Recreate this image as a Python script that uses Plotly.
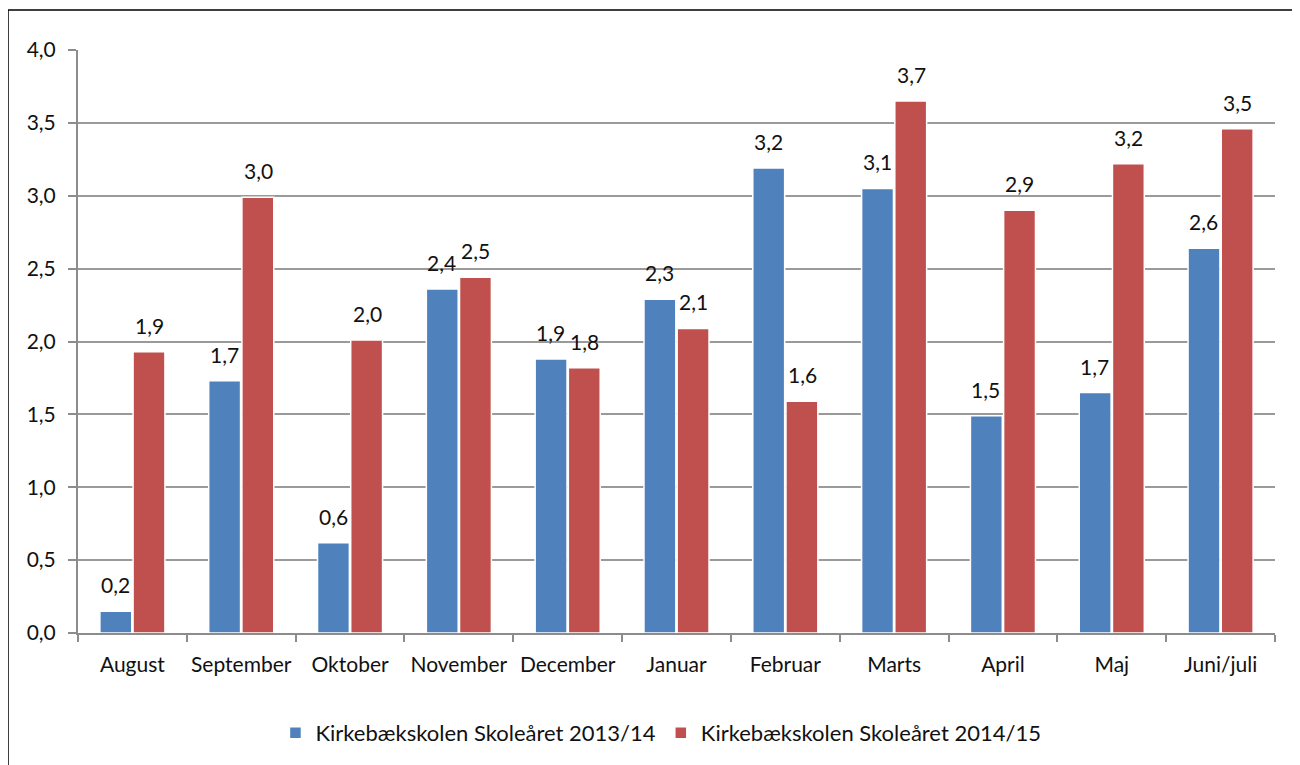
import plotly.graph_objects as go

months = ["August", "September", "Oktober", "November", "December", "Januar",
          "Februar", "Marts", "April", "Maj", "Juni/juli"]
series_names = ["Kirkebækskolen Skoleåret 2013/14", "Kirkebækskolen Skoleåret 2014/15"]
vals_1314 = [0.15, 1.73, 0.62, 2.36, 1.88, 2.29, 3.19, 3.05, 1.49, 1.65, 2.64]
vals_1415 = [1.93, 2.99, 2.01, 2.44, 1.82, 2.09, 1.59, 3.65, 2.90, 3.22, 3.46]
labels_1314 = ["0,2", "1,7", "0,6", "2,4", "1,9", "2,3", "3,2", "3,1", "1,5", "1,7", "2,6"]
labels_1415 = ["1,9", "3,0", "2,0", "2,5", "1,8", "2,1", "1,6", "3,7", "2,9", "3,2", "3,5"]

colors = ["#4F81BD", "#C0504D"]
FONT = "Lato, 'Open Sans', sans-serif"
FS = 21

fig = go.Figure()
for name, vals, col in zip(series_names, [vals_1314, vals_1415], colors):
    fig.add_trace(go.Bar(x=months, y=vals, name=name, marker_color=col,
                         marker_line=dict(color="white", width=1.5)))

# data labels sit a bit above each bar, as in the Excel original
annos = []
for vals, labs, shift in [(vals_1314, labels_1314, -17), (vals_1415, labels_1415, 17)]:
    for m, v, t in zip(months, vals, labs):
        annos.append(dict(x=m, y=v, text=t, showarrow=False, xshift=shift,
                          yshift=12, yanchor="bottom",
                          font=dict(family=FONT, size=FS, color="#111")))

# page has an 8px body margin, so everything is offset by 8px
L, R, T, B = 70, 33, 42, 140
W, H = 1300, 765
pw, ph = W - L - R, H - T - B

def px(x):
    return (x - 8 - L) / pw

def py(y):
    return (H - B - (y - 8)) / ph

fig.update_layout(
    width=W, height=H,
    margin=dict(l=L, r=R, t=T, b=B),
    paper_bgcolor="white", plot_bgcolor="white",
    separators=",.",
    barmode="group", bargap=0.39, bargroupgap=0.04,
    font=dict(family=FONT, size=FS, color="#111"),
    annotations=annos,
    showlegend=True,
    legend=dict(orientation="h", x=0.487, xanchor="center", y=py(733), yanchor="middle",
                font=dict(family=FONT, size=22), traceorder="normal",
                itemwidth=30),
    shapes=[dict(type="rect", xref="paper", yref="paper",
                 x0=px(8), x1=px(1294), y0=py(780), y1=py(10),
                 line=dict(color="black", width=1.5))],
)
fig.update_xaxes(type="category", showline=True, linecolor="#8C8C8C", linewidth=2,
                 ticks="outside", tickson="boundaries", ticklen=7, tickcolor="#8C8C8C",
                 tickwidth=1.5, showgrid=False, tickangle=0, ticklabelstandoff=12,
                 tickfont=dict(size=FS))
fig.update_yaxes(range=[0, 4], dtick=0.5, tickformat=".1f", showline=True,
                 linecolor="#8C8C8C", linewidth=2, ticks="outside", ticklen=8,
                 tickcolor="#8C8C8C", tickwidth=1.5, showgrid=True,
                 gridcolor="#9A9A9A", gridwidth=2, zeroline=False,
                 ticklabelstandoff=8, tickfont=dict(size=FS))

fig.write_html("out.html")
